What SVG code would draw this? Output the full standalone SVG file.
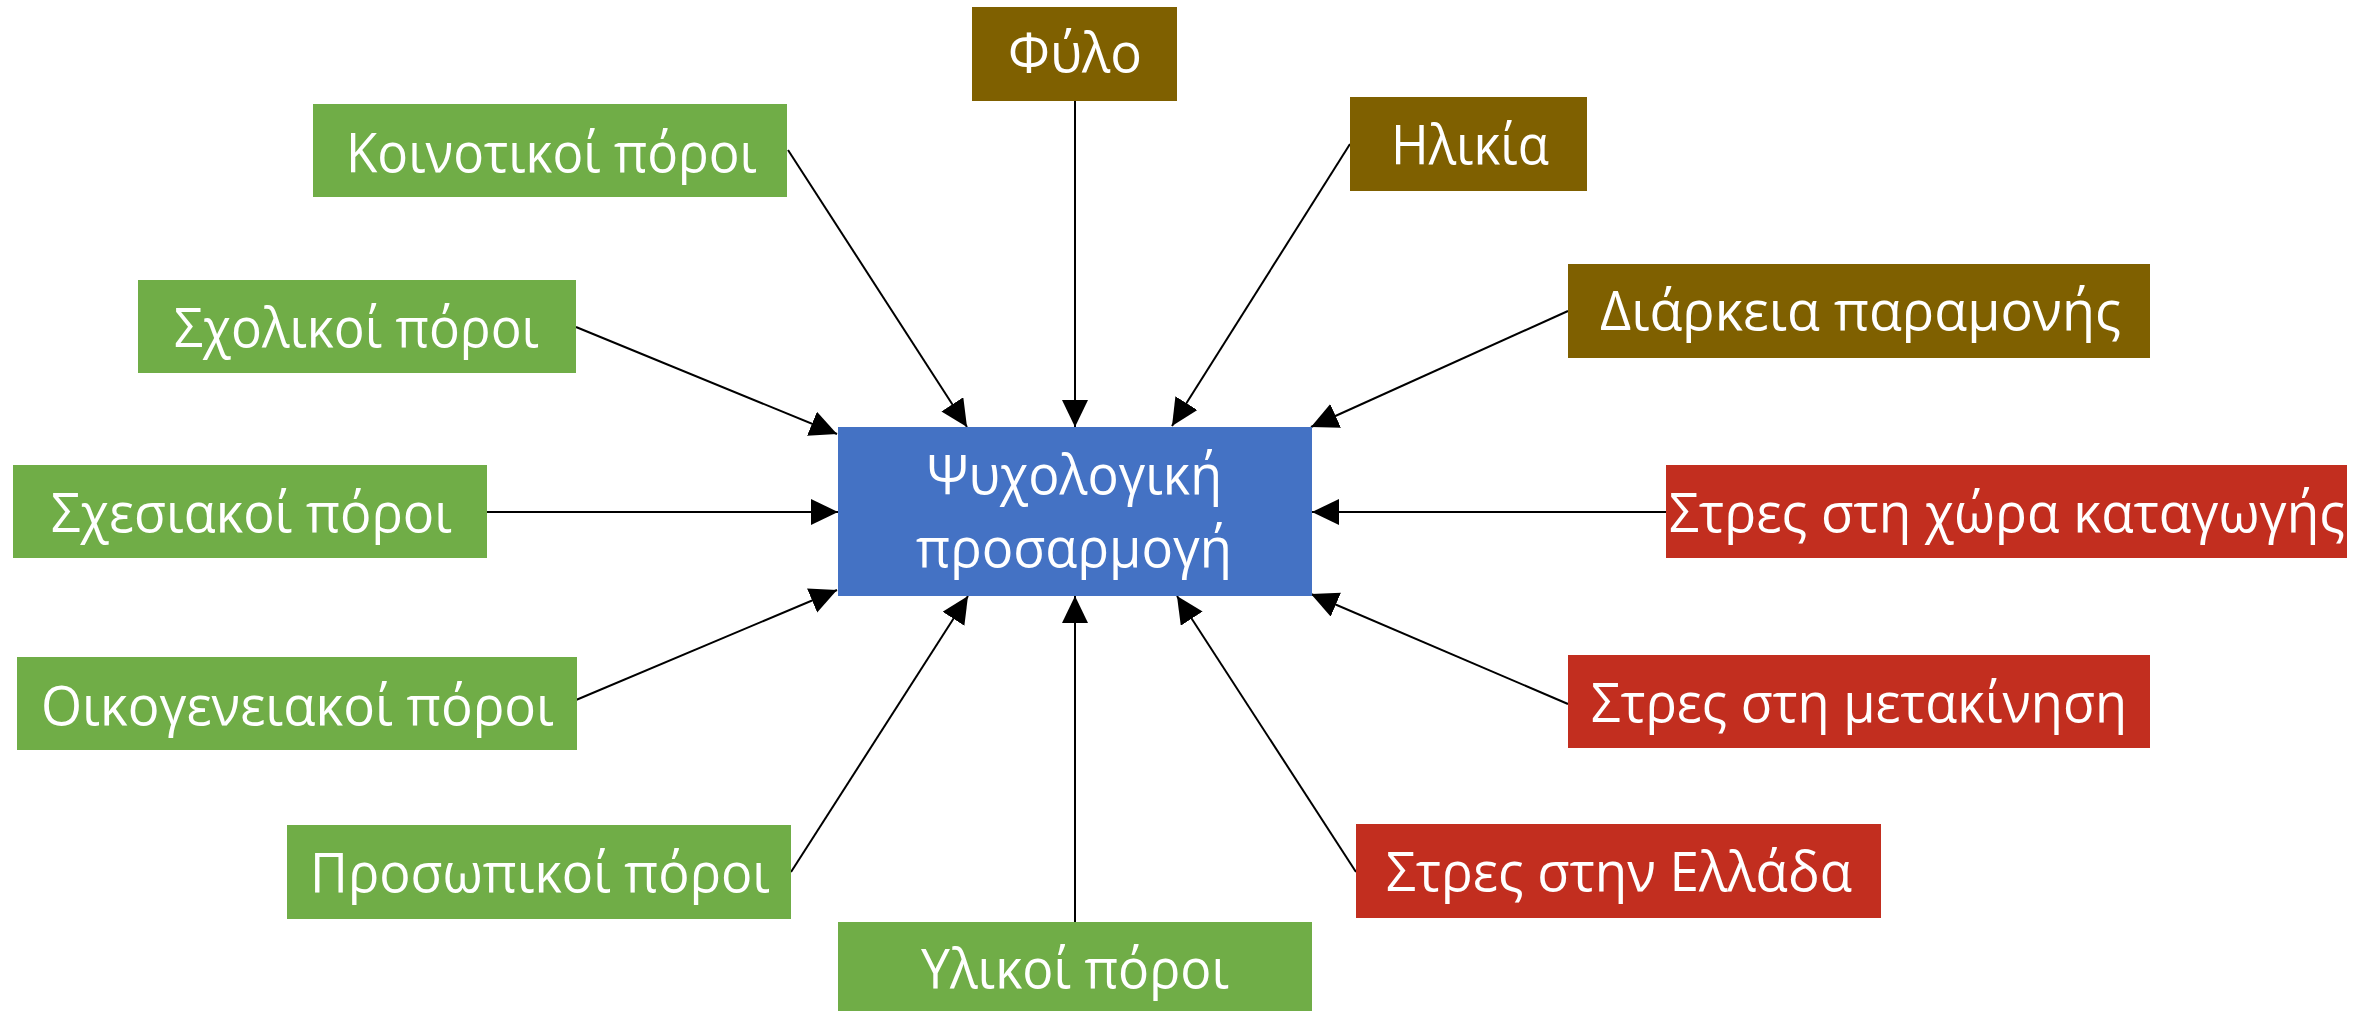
<svg xmlns="http://www.w3.org/2000/svg" width="2372" height="1011" viewBox="0 0 2372 1011">
<defs>
<style>
.g{fill:#70AD47}.b{fill:#7F6000}.r{fill:#C22E1F}.c{fill:#4472C4}
text{font-family:"Open Sans","Noto Sans","DejaVu Sans",sans-serif;font-size:54px;fill:#fff}
.e line{stroke:#000;stroke-width:2;marker-end:url(#ah)}
</style>
<marker id="ah" markerUnits="userSpaceOnUse" markerWidth="28" markerHeight="28" refX="27" refY="13" orient="auto">
<path d="M0,0 L27,13 L0,26 z" fill="#000"/>
</marker>
</defs>
<rect width="2372" height="1011" fill="#fff"/>
<g class="e" id="connectors">
<line x1="788" y1="150" x2="967" y2="427"/>
<line x1="1075" y1="101" x2="1075" y2="427"/>
<line x1="1350" y1="144" x2="1172" y2="426"/>
<line x1="1568" y1="311" x2="1311" y2="427"/>
<line x1="576" y1="327" x2="837" y2="434"/>
<line x1="487" y1="512" x2="838" y2="512"/>
<line x1="1666" y1="512" x2="1312" y2="512"/>
<line x1="576" y1="700" x2="837" y2="590"/>
<line x1="1568" y1="704" x2="1311" y2="594"/>
<line x1="791" y1="872" x2="968" y2="596"/>
<line x1="1075" y1="922" x2="1075" y2="596"/>
<line x1="1356" y1="872" x2="1177" y2="596"/>
</g>
<g id="center"><rect class="c" x="838" y="427" width="474" height="169"/>
<text x="927" y="494" textLength="295" lengthAdjust="spacingAndGlyphs">Ψυχολογική</text>
<text x="916" y="567" textLength="316" lengthAdjust="spacingAndGlyphs">προσαρμογή</text></g>
<g id="fylo"><rect class="b" x="972" y="7" width="205" height="94"/>
<text x="1008" y="72" textLength="134" lengthAdjust="spacingAndGlyphs">Φύλο</text></g>
<g id="ilikia"><rect class="b" x="1350" y="97" width="237" height="94"/>
<text x="1391" y="164" textLength="158" lengthAdjust="spacingAndGlyphs">Ηλικία</text></g>
<g id="diarkeia"><rect class="b" x="1568" y="264" width="582" height="94"/>
<text x="1600" y="330" textLength="521" lengthAdjust="spacingAndGlyphs">Διάρκεια παραμονής</text></g>
<g id="stres-xora"><rect class="r" x="1666" y="465" width="681" height="93"/>
<text x="1669" y="532" textLength="676" lengthAdjust="spacingAndGlyphs">Στρες στη χώρα καταγωγής</text></g>
<g id="stres-metakinisi"><rect class="r" x="1568" y="655" width="582" height="93"/>
<text x="1591" y="722" textLength="536" lengthAdjust="spacingAndGlyphs">Στρες στη μετακίνηση</text></g>
<g id="stres-ellada"><rect class="r" x="1356" y="824" width="525" height="94"/>
<text x="1386" y="891" textLength="466" lengthAdjust="spacingAndGlyphs">Στρες στην Ελλάδα</text></g>
<g id="koinotikoi"><rect class="g" x="313" y="104" width="474" height="93"/>
<text x="346" y="172" textLength="411" lengthAdjust="spacingAndGlyphs">Κοινοτικοί πόροι</text></g>
<g id="sxolikoi"><rect class="g" x="138" y="280" width="438" height="93"/>
<text x="174" y="347" textLength="365" lengthAdjust="spacingAndGlyphs">Σχολικοί πόροι</text></g>
<g id="sxesiakoi"><rect class="g" x="13" y="465" width="474" height="93"/>
<text x="51" y="532" textLength="401" lengthAdjust="spacingAndGlyphs">Σχεσιακοί πόροι</text></g>
<g id="oikogeneiakoi"><rect class="g" x="17" y="657" width="560" height="93"/>
<text x="41" y="725" textLength="513" lengthAdjust="spacingAndGlyphs">Οικογενειακοί πόροι</text></g>
<g id="prosopikoi"><rect class="g" x="287" y="825" width="504" height="94"/>
<text x="310" y="892" textLength="460" lengthAdjust="spacingAndGlyphs">Προσωπικοί πόροι</text></g>
<g id="ylikoi"><rect class="g" x="838" y="922" width="474" height="93"/>
<text x="921" y="988" textLength="308" lengthAdjust="spacingAndGlyphs">Υλικοί πόροι</text></g>
</svg>
